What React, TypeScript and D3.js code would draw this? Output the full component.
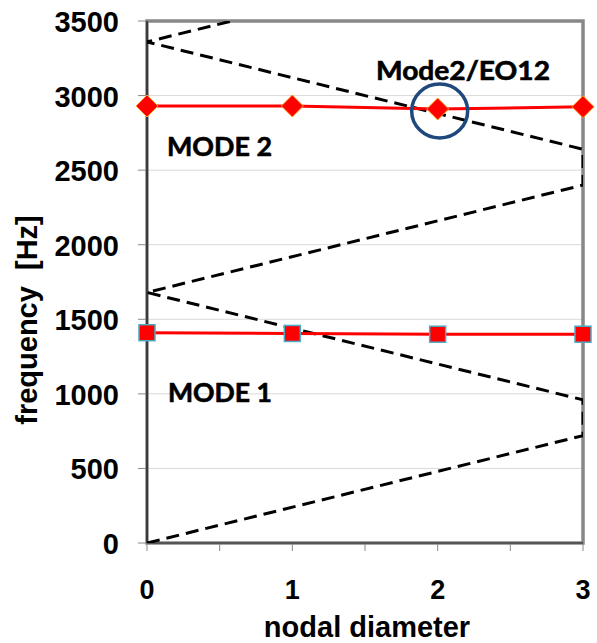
import React from "react";
import * as d3 from "d3";

// Nodal diameters on the x axis
const nodalDiameters = [0, 1, 2, 3];
// Natural frequencies per mode [Hz]
const mode1Freq = [1410, 1405, 1400, 1400];
const mode2Freq = [2930, 2930, 2910, 2925];
// Engine-order excitation zig-zag (nodal diameter, frequency)
const eoND = [0, 3, 3, 0, 3, 3, 0, 0.5833];
const eoFreq = [0, 720, 960, 1680, 2400, 2640, 3360, 3500];
// Axis ticks
const yTicks = [0, 500, 1000, 1500, 2000, 2500, 3000, 3500];
const xTicks = [0, 1, 2, 3];
const xMinorTicks = [0, 0.5, 1, 1.5, 2, 2.5, 3];

const W = 597;
const H = 643;

export default function App() {
  const x = d3.scaleLinear().domain([0, 3]).range([147, 583]);
  const y = d3.scaleLinear().domain([0, 3500]).range([543, 21]);

  const line = d3
    .line<[number, number]>()
    .x((d) => x(d[0]))
    .y((d) => y(d[1]));

  const eoPts: [number, number][] = eoND.map((n, i) => [n, eoFreq[i]]);
  const m1Pts: [number, number][] = nodalDiameters.map((n, i) => [n, mode1Freq[i]]);
  const m2Pts: [number, number][] = nodalDiameters.map((n, i) => [n, mode2Freq[i]]);

  const tickFont = "'Liberation Sans', Arial, sans-serif";
  const labelFont = "Lato, 'Open Sans', sans-serif";

  return (
    <svg
      width={W}
      height={H}
      style={{ position: "absolute", left: 0, top: 0, background: "#fff" }}
    >
      <defs>
        <clipPath id="plotClip">
          <rect x={x(0)} y={y(3500)} width={x(3) - x(0)} height={y(0) - y(3500)} />
        </clipPath>
      </defs>

      {/* gridlines */}
      {yTicks
        .filter((t) => t > 0 && t < 3500)
        .map((t) => (
          <line
            key={"g" + t}
            x1={x(0)}
            x2={x(3)}
            y1={y(t)}
            y2={y(t)}
            stroke="#d9d9d9"
            strokeWidth={1}
          />
        ))}

      {/* plot frame */}
      <rect
        x={x(0)}
        y={y(3500)}
        width={x(3) - x(0)}
        height={y(0) - y(3500)}
        fill="none"
        stroke="#888"
        strokeWidth={3.5}
      />

      {/* y axis ticks */}
      {yTicks.map((t) => (
        <line
          key={"yt" + t}
          x1={x(0) - 9}
          x2={x(0)}
          y1={y(t)}
          y2={y(t)}
          stroke="#888"
          strokeWidth={1}
        />
      ))}
      {/* x axis ticks */}
      {xMinorTicks.map((t) => (
        <line
          key={"xt" + t}
          x1={x(t)}
          x2={x(t)}
          y1={y(0)}
          y2={y(0) + 8}
          stroke="#888"
          strokeWidth={1}
        />
      ))}

      {/* axis lines */}
      <line x1={x(0)} x2={x(0)} y1={y(3500)} y2={y(0)} stroke="#222" strokeWidth={1.5} />
      <line x1={x(0)} x2={x(3)} y1={y(0)} y2={y(0)} stroke="#444" strokeWidth={1.5} />

      {/* engine-order lines */}
      <path
        d={line(eoPts) ?? ""}
        fill="none"
        stroke="#000"
        strokeWidth={3}
        strokeDasharray="13,7"
        clipPath="url(#plotClip)"
      />

      {/* mode 1 */}
      <path d={line(m1Pts) ?? ""} fill="none" stroke="#ff0000" strokeWidth={3} />
      {m1Pts.map((p, i) => (
        <rect
          key={"s" + i}
          x={x(p[0]) - 8}
          y={y(p[1]) - 8}
          width={16}
          height={16}
          fill="#ff0000"
          stroke="#4bacc6"
          strokeWidth={1.5}
        />
      ))}

      {/* mode 2 */}
      <path d={line(m2Pts) ?? ""} fill="none" stroke="#ff0000" strokeWidth={3} />
      {m2Pts.map((p, i) => {
        const cx = x(p[0]);
        const cy = y(p[1]);
        const r = 11;
        return (
          <path
            key={"d" + i}
            d={`M${cx},${cy - r}L${cx + r},${cy}L${cx},${cy + r}L${cx - r},${cy}Z`}
            fill="#ff0000"
            stroke="#ffa020"
            strokeWidth={1}
          />
        );
      })}

      {/* highlight of the mode 2 / EO12 crossing */}
      <ellipse
        cx={x(2) + 2}
        cy={y(mode2Freq[2]) + 2}
        rx={28}
        ry={27}
        fill="none"
        stroke="#1f497d"
        strokeWidth={3.5}
      />

      {/* annotations */}
      <text
        x={167}
        y={156}
        fontFamily={labelFont}
        fontWeight={700}
        fontSize={26}
        textLength={105}
        lengthAdjust="spacingAndGlyphs"
        fill="#000"
        stroke="#000"
        strokeWidth={0.6}
      >
        MODE 2
      </text>
      <text
        x={168}
        y={402}
        fontFamily={labelFont}
        fontWeight={700}
        fontSize={26}
        textLength={104}
        lengthAdjust="spacingAndGlyphs"
        fill="#000"
        stroke="#000"
        strokeWidth={0.6}
      >
        MODE 1
      </text>
      <text
        x={376}
        y={80}
        fontFamily={labelFont}
        fontWeight={700}
        fontSize={26}
        textLength={174}
        lengthAdjust="spacingAndGlyphs"
        fill="#000"
        stroke="#000"
        strokeWidth={0.6}
      >
        Mode2/EO12
      </text>

      {/* y tick labels */}
      {yTicks.map((t) => (
        <text
          key={"yl" + t}
          x={119}
          y={y(t) + 11}
          textAnchor="end"
          fontFamily={tickFont}
          fontWeight={700}
          fontSize={29}
          fill="#000"
        >
          {t}
        </text>
      ))}

      {/* x tick labels */}
      {xTicks.map((t) => (
        <text
          key={"xl" + t}
          x={x(t)}
          y={599}
          textAnchor="middle"
          fontFamily={tickFont}
          fontWeight={700}
          fontSize={27}
          fill="#000"
        >
          {t}
        </text>
      ))}

      {/* axis titles */}
      <text
        x={367}
        y={637}
        textAnchor="middle"
        fontFamily={tickFont}
        fontWeight={700}
        fontSize={29}
        fill="#000"
      >
        nodal diameter
      </text>
      <text
        transform={`translate(37,320) rotate(-90)`}
        textAnchor="middle"
        fontFamily={tickFont}
        fontWeight={700}
        fontSize={29}
        fill="#000"
        style={{ whiteSpace: "pre" }}
      >
        {"frequency  [Hz]"}
      </text>
    </svg>
  );
}
